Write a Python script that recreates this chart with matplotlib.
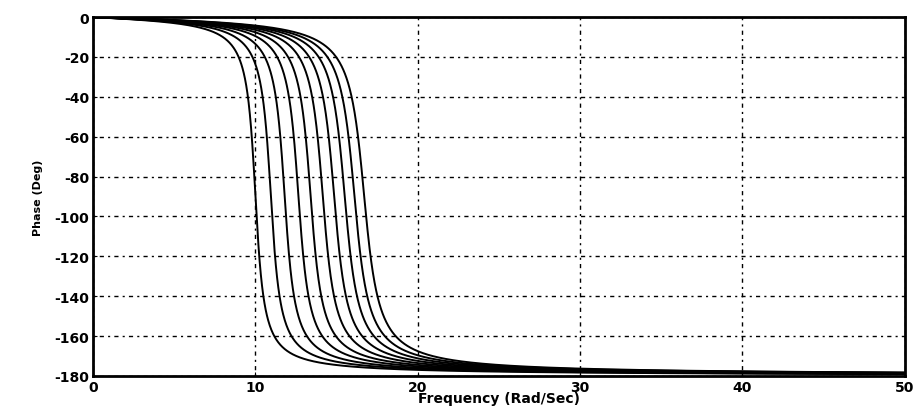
import numpy as np
import matplotlib.pyplot as plt

plt.rcParams["axes.unicode_minus"] = False

wn_values = [10.0, 10.95, 11.8, 12.65, 13.4, 14.15, 14.85, 15.5, 16.1, 16.7]
zeta = 0.04

x_ticks = [0, 10, 20, 30, 40, 50]
y_ticks = [0, -20, -40, -60, -80, -100, -120, -140, -160, -180]

w = np.linspace(0, 50, 2000)

fig = plt.figure(figsize=(9.13, 4.14), dpi=100)
ax = fig.add_axes([0.102, 0.0894, 0.889, 0.867])

for wn in wn_values:
    r = w / wn
    phase = -np.degrees(np.arctan2(2 * zeta * r, 1 - r**2))
    ax.plot(w, phase, color="black", linewidth=1.4)

ax.set_xlim(0, 50)
ax.set_ylim(-180, 0)
ax.set_xticks(x_ticks)
ax.set_yticks(y_ticks)
ax.tick_params(direction="in", length=3, labelsize=10, pad=3)
for lab in ax.get_xticklabels() + ax.get_yticklabels():
    lab.set_fontweight("bold")

ax.grid(True, color="black", linestyle=(0, (1.5, 3, 3, 3)), linewidth=1.0)
for s in ax.spines.values():
    s.set_linewidth(2)

ax.set_xlabel("Frequency (Rad/Sec)", fontsize=10, fontweight="bold", labelpad=-2)
ax.set_ylabel("Phase (Deg)", fontsize=8, fontweight="bold", labelpad=8)

plt.savefig("out.png", dpi=100)
